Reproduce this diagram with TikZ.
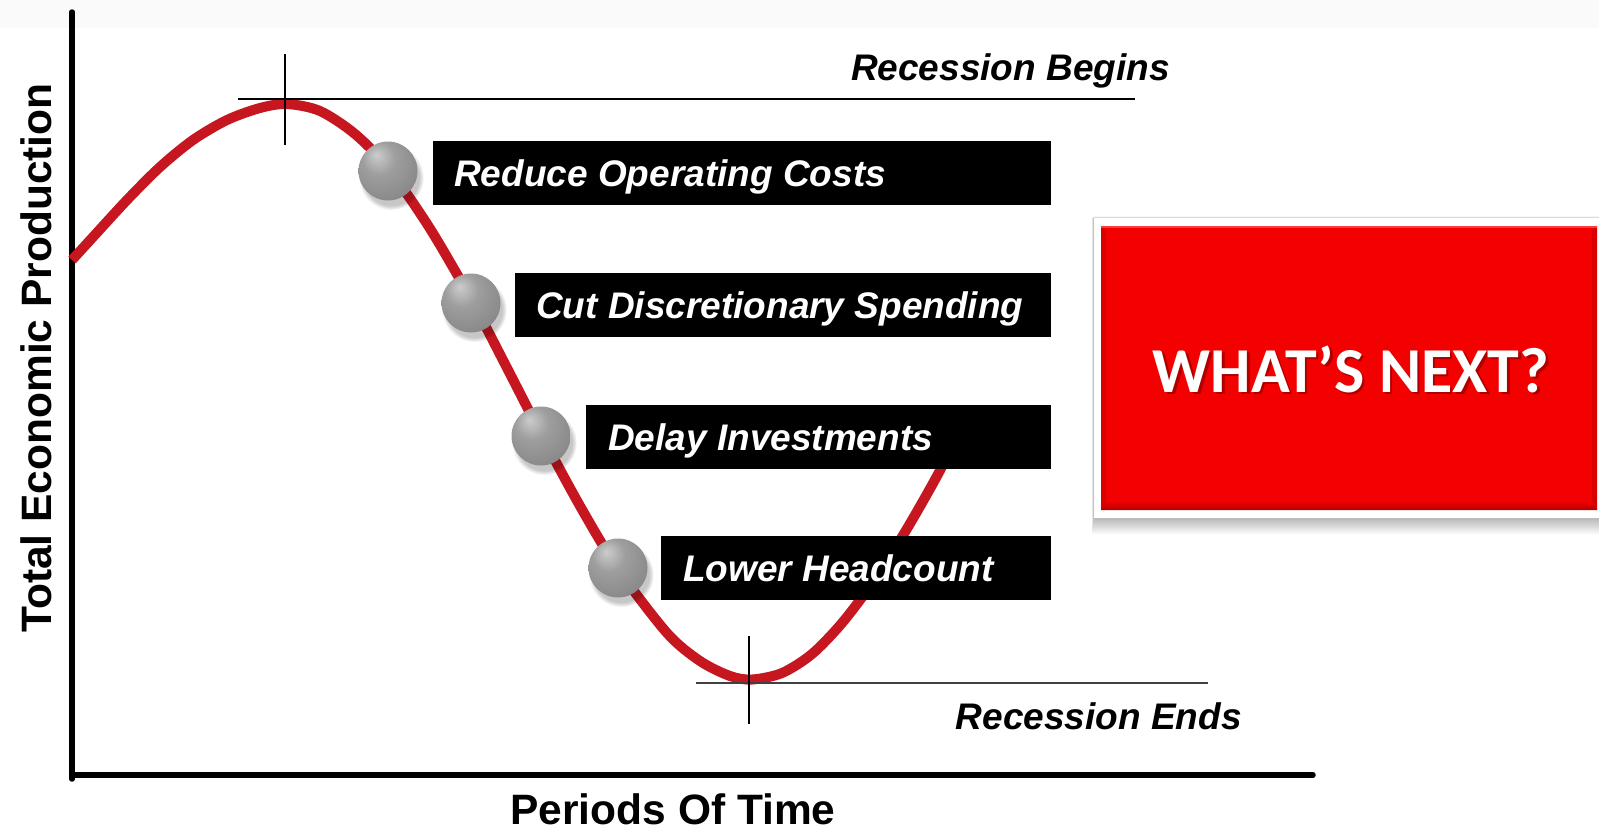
\documentclass[tikz,border=0pt]{standalone}
\usepackage{fontspec}
\setmainfont{Liberation Sans}
\newfontfamily\calfont{Carlito}
\usetikzlibrary{calc,shadows}

\definecolor{curvered}{RGB}{198,22,32}
\definecolor{boxred}{RGB}{243,0,0}
\definecolor{bevelred}{RGB}{178,0,0}
\definecolor{edgered}{RGB}{218,0,0}
\definecolor{textshadow}{RGB}{120,0,0}
\definecolor{topband}{RGB}{250,250,250}

% radial shading for the grey marker spheres
\pgfdeclareradialshading{greyball}{\pgfpoint{-10bp}{14bp}}{%
  color(0bp)=(black!20); color(14bp)=(black!38); color(32bp)=(black!46);
  color(50bp)=(black!57); color(64bp)=(black!66)}

\begin{document}
\begin{tikzpicture}[x=1pt,y=-1pt,
  axisline/.style={line width=5.5pt, line cap=round, black},
  thinline/.style={line width=1.2pt, black},
  curve/.style={line width=10pt, curvered},
  axislbl/.style={font=\fontsize{42.5}{46}\selectfont\bfseries, inner sep=0pt},
  notelbl/.style={font=\fontsize{37}{40}\selectfont\bfseries\itshape, inner sep=0pt},
  stepbox/.style={fill=black, anchor=north west, minimum height=64pt, inner sep=0pt},
  steplbl/.style={font=\fontsize{37}{40}\selectfont\bfseries\itshape, text=white,
    anchor=west, inner sep=0pt, text height=26.5pt, text depth=0pt},
  marker/.style={circle, minimum size=59pt, inner sep=0pt, shade, shading=greyball,
    circular drop shadow={shadow xshift=3pt, shadow yshift=-6pt, opacity=0.22, fill=black}},
]
\useasboundingbox (0,0) rectangle (1599,828);
\fill[white] (0,0) rectangle (1599,828);
\fill[topband] (0,0) rectangle (1599,28);

% axes
\coordinate (ytop) at (72,12);
\coordinate (origin) at (72,775);
\coordinate (xend) at (1313,775);
\draw[axisline] (ytop) -- (72,779);
\draw[axisline] (origin) -- (xend);

\node[axislbl, rotate=90, anchor=base] (ylab) at (51,358) {Total Economic Production};
\node[axislbl, anchor=base] (xlab) at (673,824) {Periods Of Time};

% business cycle curve (passes behind the step boxes)
\draw[curve] plot[smooth, tension=0.5] coordinates {
  (72,260) (93,237) (127,200) (160,167) (193,140) (227,120) (260,108) (287,104)
  (320,111) (355,134) (388,168) (429,227) (471,299) (506,366) (541,434)
  (580,506) (618,569) (667,633) (700,661) (730,676) (752,679.5)
  (782,673) (812,654) (842,623) (873,582) (905,532) (937,476) (962,427)};

% peak and trough markers
\draw[thinline] (238,99) -- (1135,99);
\draw[thinline] (285,54) -- (285,145);
\draw[line width=1.8pt, black!75] (696,683) -- (1208,683);
\draw[thinline] (749,636) -- (749,724);

\node[notelbl, anchor=base east] (rbegin) at (1170,80) {Recession Begins};
\node[notelbl, anchor=base east] (rend) at (1242,729) {Recession Ends};

% steps taken during the downturn
\node[stepbox, minimum width=618pt] (b1) at (433,141) {};
\node[stepbox, minimum width=536pt] (b2) at (515,273) {};
\node[stepbox, minimum width=465pt] (b3) at (586,405) {};
\node[stepbox, minimum width=390pt] (b4) at (661,536) {};
\node[steplbl] (t1) at ([xshift=21pt]b1.west) {Reduce Operating Costs};
\node[steplbl] (t2) at ([xshift=21pt]b2.west) {Cut Discretionary Spending};
\node[steplbl] (t3) at ([xshift=22pt]b3.west) {Delay Investments};
\node[steplbl] (t4) at ([xshift=22pt]b4.west) {Lower Headcount};

\node[marker] (m1) at (388,171) {};
\node[marker] (m2) at (471,303) {};
\node[marker] (m3) at (541,436) {};
\node[marker] (m4) at (618,568) {};

% call-out panel
\foreach \i in {1,...,8}
  \fill[black, opacity=0.035] (1094-0.3*\i,216+0.3*\i) rectangle (1610,518+2*\i);
\fill[white] (1094,218) rectangle (1610,518);
\fill[boxred] (1101,226) rectangle (1597,510);
\fill[edgered] (1101,226) -- (1106,231) -- (1106,505) -- (1101,510) -- cycle;
\fill[edgered] (1597,226) -- (1592,231) -- (1592,505) -- (1597,510) -- cycle;
\shade[top color=boxred, bottom color=bevelred] (1106,501) -- (1592,501) -- (1597,510) -- (1101,510) -- cycle;
\fill[red!60!white, opacity=0.6] (1101,226) rectangle (1597,228);

\node[font=\calfont\bfseries\fontsize{64}{68}\selectfont, text=textshadow, opacity=0.55,
  anchor=base, inner sep=0pt] (nextshadow) at (1353.5,394.5) {WHAT’S NEXT?};
\node[font=\calfont\bfseries\fontsize{64}{68}\selectfont, text=white,
  anchor=base, inner sep=0pt] (next) at (1351,392) {WHAT’S NEXT?};
\end{tikzpicture}
\end{document}
